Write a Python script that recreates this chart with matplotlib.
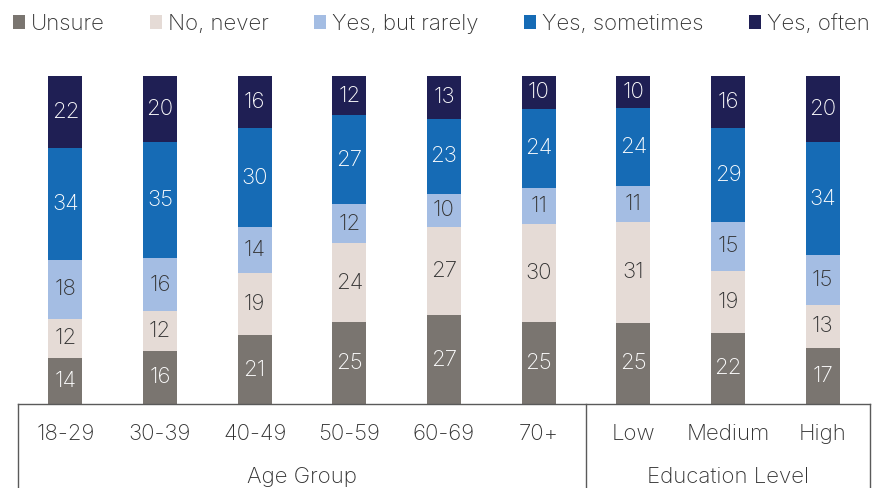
import matplotlib
matplotlib.use("Agg")
import matplotlib.pyplot as plt
from matplotlib.patches import Patch
from matplotlib.lines import Line2D
import numpy as np

plt.rcParams['font.family'] = ['Inter', 'DejaVu Sans']
plt.rcParams['font.weight'] = 'light'

categories = ["18-29", "30-39", "40-49", "50-59", "60-69", "70+", "Low", "Medium", "High"]
groups = ["Age Group", "Education Level"]
group_sizes = [6, 3]
series_names = ["Unsure", "No, never", "Yes, but rarely", "Yes, sometimes", "Yes, often"]
unsure = [14, 16, 21, 25, 27, 25, 25, 22, 17]
no_never = [12, 12, 19, 24, 27, 30, 31, 19, 13]
yes_rarely = [18, 16, 14, 12, 10, 11, 11, 15, 15]
yes_sometimes = [34, 35, 30, 27, 23, 24, 24, 29, 34]
yes_often = [22, 20, 16, 12, 13, 10, 10, 16, 20]

colors = ["#7a7570", "#e5dbd6", "#a4bde3", "#166bb5", "#1f1f54"]
label_colors = ["white", "#333333", "#333333", "white", "white"]

W, H = 882, 488
fig = plt.figure(figsize=(W / 100, H / 100), dpi=100)
ax_left, ax_right, ax_bot, ax_top = 18, 870, 404, 76
ax = fig.add_axes([ax_left / W, 1 - ax_bot / H, (ax_right - ax_left) / W, (ax_bot - ax_top) / H])

x = np.arange(len(categories))
data = [np.array(d, dtype=float) for d in (unsure, no_never, yes_rarely, yes_sometimes, yes_often)]
totals = np.sum(data, axis=0)
bottom = np.zeros(len(categories))
for vals, c, lc in zip(data, colors, label_colors):
    shares = vals / totals * 100
    bars = ax.bar(x, shares, bottom=bottom, width=0.36, color=c, edgecolor='none')
    ax.bar_label(bars, labels=[f"{int(v)}" for v in vals], label_type='center',
                 color=lc, fontsize=16)
    bottom += shares

ax.set_xlim(-0.5, len(categories) - 0.5)
ax.set_ylim(0, 100)
ax.axis('off')

line_col = "#5a5a5a"
fig.add_artist(Line2D([ax_left / W, ax_right / W], [1 - ax_bot / H] * 2, color=line_col, lw=1.0))
step = (ax_right - ax_left) / len(categories)
seps = [ax_left]
acc = 0
for gs in group_sizes:
    acc += gs
    seps.append(ax_left + acc * step)
for sx in seps:
    fig.add_artist(Line2D([sx / W, sx / W], [1 - ax_bot / H, 0], color=line_col, lw=1.0))

for i, cat in enumerate(categories):
    fig.text((ax_left + (i + 0.5) * step) / W, 1 - 434 / H, cat, ha='center', va='center',
             fontsize=16, color="#333333")
start = 0
for g, gs in zip(groups, group_sizes):
    cx = ax_left + (start + gs / 2) * step
    fig.text(cx / W, 1 - 477 / H, g, ha='center', va='center', fontsize=16, color="#333333")
    start += gs

handles = [Patch(facecolor=c, edgecolor='none') for c in colors]
fig.legend(handles, series_names, loc='center', bbox_to_anchor=(0.5, 1 - 24 / H), ncol=5,
           frameon=False, fontsize=16, handlelength=0.55, handleheight=0.55,
           handletextpad=0.25, columnspacing=2.05, labelcolor="#333333")

fig.savefig("out.png", dpi=100)
